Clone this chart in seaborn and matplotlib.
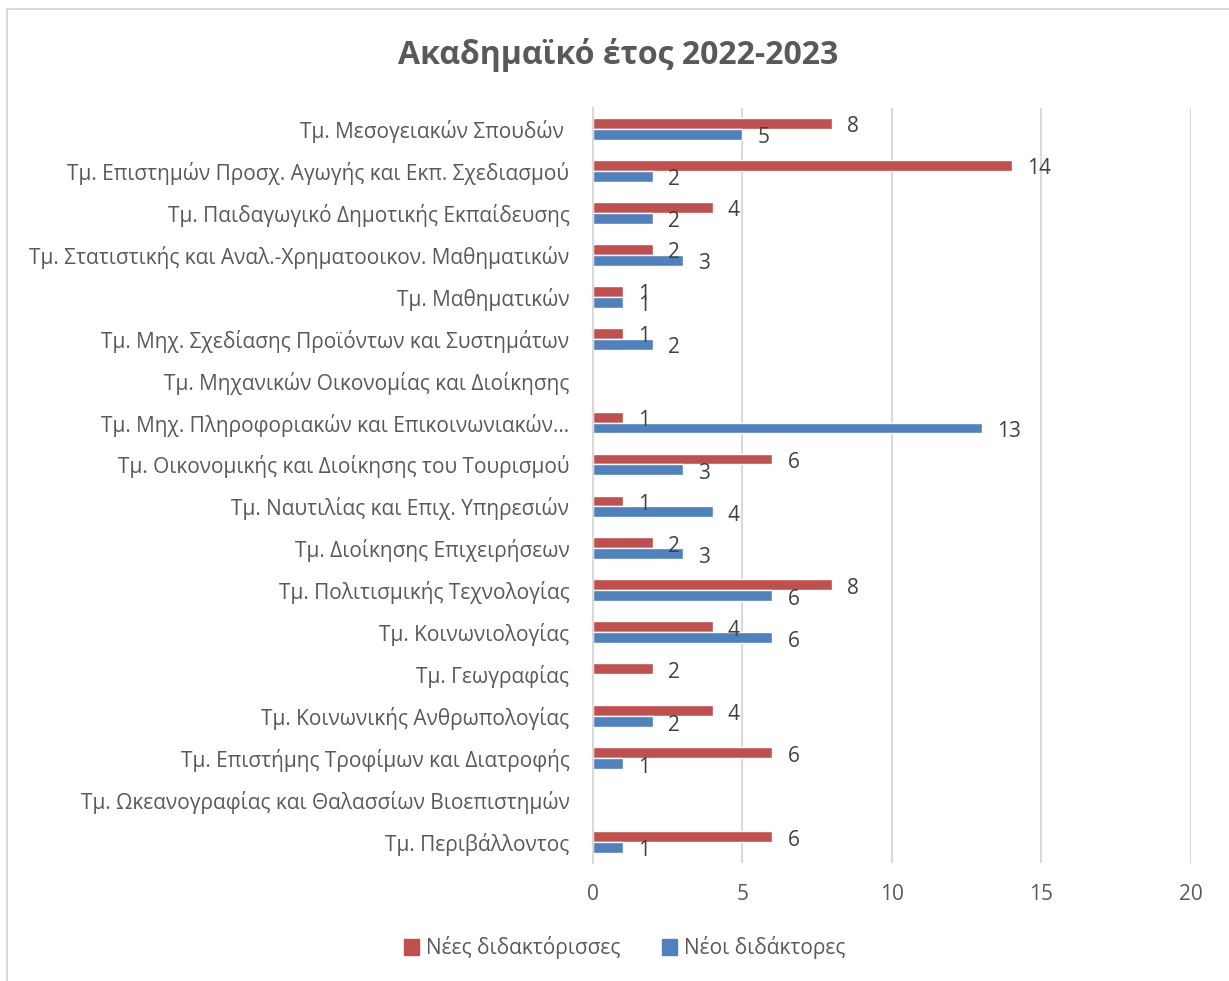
import matplotlib
matplotlib.use("Agg")
import matplotlib.pyplot as plt
from matplotlib.lines import Line2D
from matplotlib.patches import Patch
import seaborn as sns
import pandas as pd

# τμήματα από πάνω προς τα κάτω
tmimata = [
    "Τμ. Μεσογειακών Σπουδών ",
    "Τμ. Επιστημών Προσχ. Αγωγής και Εκπ. Σχεδιασμού",
    "Τμ. Παιδαγωγικό Δημοτικής Εκπαίδευσης",
    "Τμ. Στατιστικής και Αναλ.-Χρηματοοικον. Μαθηματικών",
    "Τμ. Μαθηματικών",
    "Τμ. Μηχ. Σχεδίασης Προϊόντων και Συστημάτων",
    "Τμ. Μηχανικών Οικονομίας και Διοίκησης",
    "Τμ. Μηχ. Πληροφοριακών και Επικοινωνιακών…",
    "Τμ. Οικονομικής και Διοίκησης του Τουρισμού",
    "Τμ. Ναυτιλίας και Επιχ. Υπηρεσιών",
    "Τμ. Διοίκησης Επιχειρήσεων",
    "Τμ. Πολιτισμικής Τεχνολογίας",
    "Τμ. Κοινωνιολογίας",
    "Τμ. Γεωγραφίας",
    "Τμ. Κοινωνικής Ανθρωπολογίας",
    "Τμ. Επιστήμης Τροφίμων και Διατροφής",
    "Τμ. Ωκεανογραφίας και Θαλασσίων Βιοεπιστημών",
    "Τμ. Περιβάλλοντος",
]
nees = [8, 14, 4, 2, 1, 1, None, 1, 6, 1, 2, 8, 4, 2, 4, 6, None, 6]
neoi = [5, 2, 2, 3, 1, 2, None, 13, 3, 4, 3, 6, 6, None, 2, 1, None, 1]

seires = ["Νέες διδακτόρισσες", "Νέοι διδάκτορες"]
xromata = ["#C0504D", "#4F81BD"]
x_ticks = [0, 5, 10, 15, 20]

df = pd.DataFrame({
    "tmima": tmimata * 2,
    "seira": [seires[0]] * len(tmimata) + [seires[1]] * len(tmimata),
    "timi": nees + neoi,
}).dropna()

sns.set_theme(style="white")
plt.rcParams["font.family"] = ["Open Sans", "DejaVu Sans"]
keimeno = "#595959"

fig = plt.figure(figsize=(12.29, 9.81), dpi=100)
ax = fig.add_axes([0.4825, 0.1203, 0.4865, 0.7697])

sns.barplot(data=df, y="tmima", x="timi", hue="seira", order=tmimata,
            hue_order=seires, palette=xromata, orient="h", width=0.52,
            saturation=1, ax=ax, legend=False)

for cont in ax.containers:
    etiketes = ax.bar_label(cont, fmt="%g", padding=11, fontsize=15, color="#404040")
    for t in etiketes:
        t.xyann = (11, -2.5)

ax.set_xlim(0, 20)
ax.set_xticks(x_ticks)
ax.set_xlabel("")
ax.set_ylabel("")
ax.grid(axis="x", color="#d9d9d9", linewidth=1.5)
ax.set_axisbelow(True)
for s in ["top", "right", "bottom"]:
    ax.spines[s].set_visible(False)
ax.spines["left"].set_color("#d9d9d9")
ax.spines["left"].set_linewidth(1.5)
ax.tick_params(axis="y", length=0, pad=17, labelsize=15, labelcolor=keimeno)
ax.tick_params(axis="x", length=0, pad=15, labelsize=15, labelcolor=keimeno)

fig.suptitle("Ακαδημαϊκό έτος 2022-2023", x=0.503, y=0.961, fontsize=23,
             fontweight="bold", color=keimeno)

handles = [Patch(color=c) for c in xromata]
fig.legend(handles, seires, loc="center", bbox_to_anchor=(0.508, 0.034), ncol=2,
           frameon=False, fontsize=15, labelcolor=keimeno, handlelength=0.75,
           handleheight=0.75, handletextpad=0.3, columnspacing=2.0)

# λεπτό πλαίσιο (πάνω και αριστερά)
fig.add_artist(Line2D([0.006, 1.0], [0.991, 0.991], color="#d9d9d9", linewidth=1.5,
                      transform=fig.transFigure))
fig.add_artist(Line2D([0.006, 0.006], [0.0, 0.991], color="#d9d9d9", linewidth=1.5,
                      transform=fig.transFigure))

fig.savefig("out.png", dpi=100, facecolor="white")
